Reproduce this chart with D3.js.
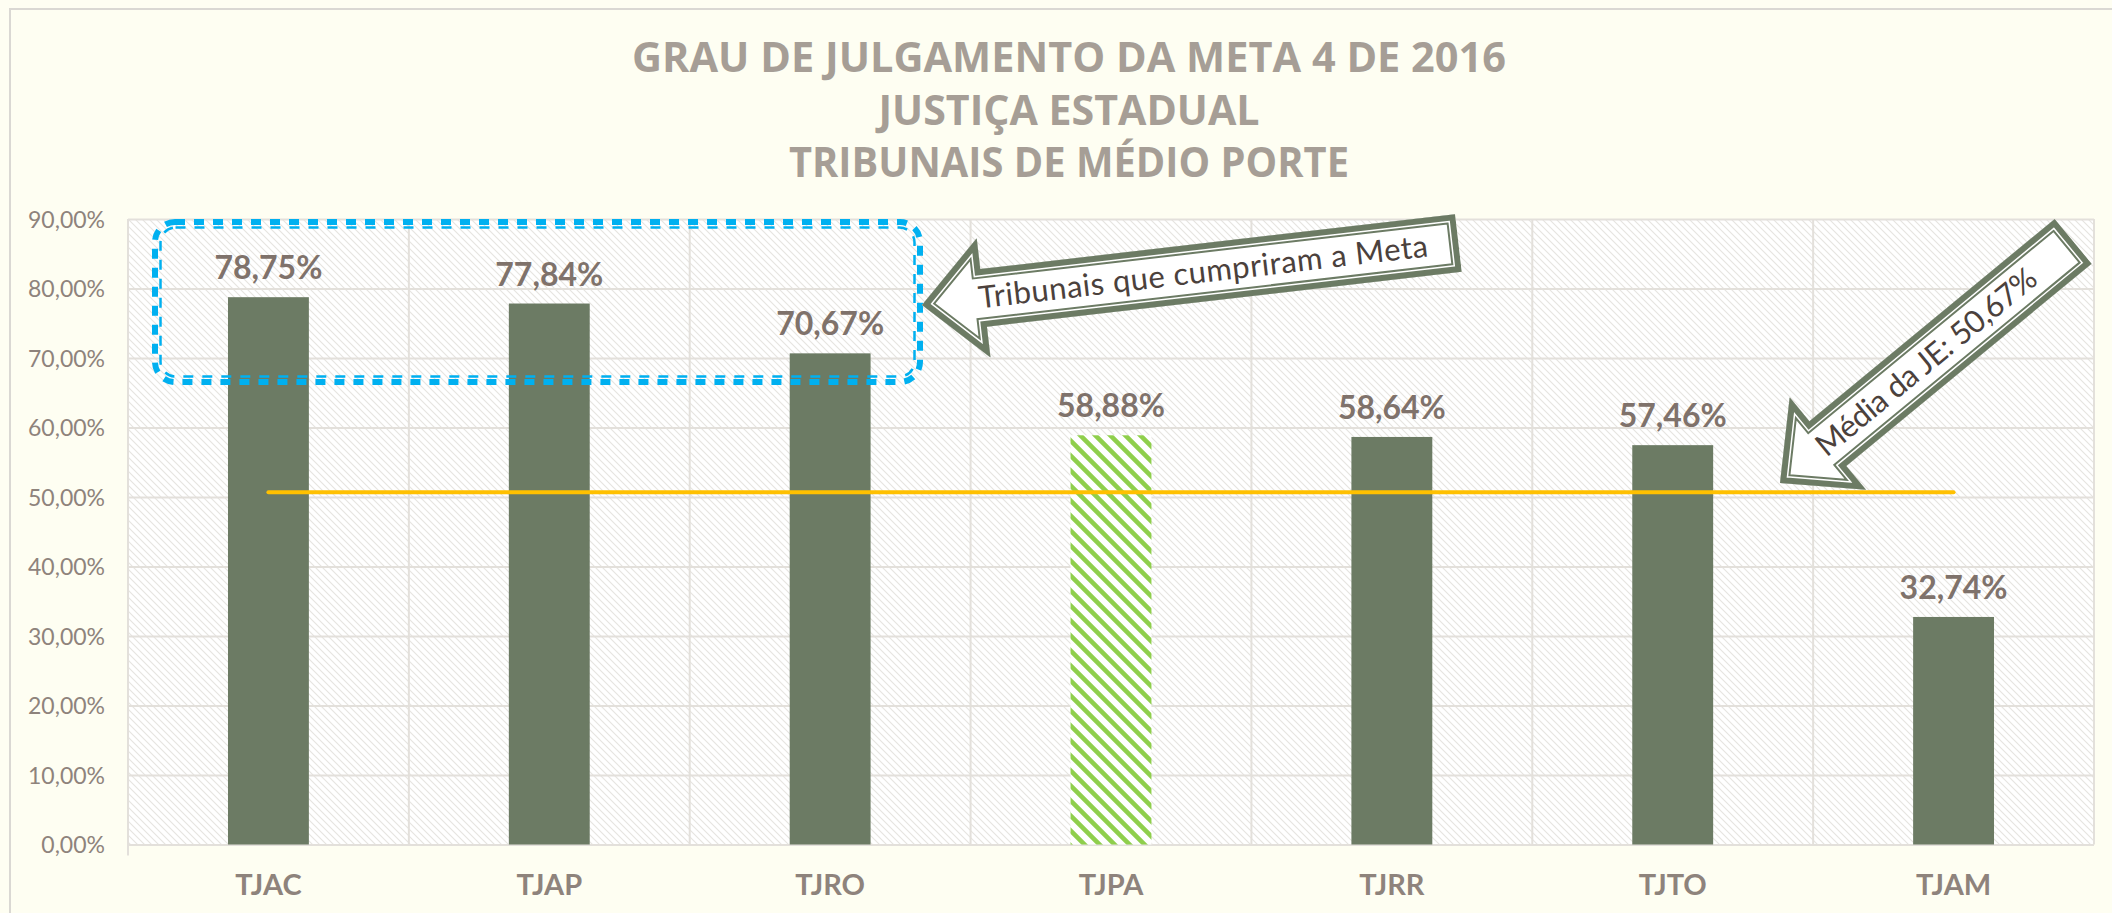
<!DOCTYPE html>
<html lang="pt">
<head>
<meta charset="UTF-8">
<title>Grau de julgamento da Meta 4 de 2016</title>
<script src="https://d3js.org/d3.v7.min.js"></script>
<style>
  html, body { margin: 0; padding: 0; background: #FEFEF2; overflow: hidden; }
  svg { display: block; }
  .ylab text { font-family: Lato, sans-serif; font-size: 23px; fill: #8E837C; }
  .xlab text { font-family: Lato, sans-serif; font-weight: 700; font-size: 29px; fill: #8E837C; }
  .grid line { stroke: #E3E0DB; stroke-width: 2; }
  .grid path { display: none; }
  .val { font-family: Lato, sans-serif; font-weight: 700; font-size: 32px; fill: #7F726B; }
  .title { font-family: "Open Sans", sans-serif; font-weight: 700; font-size: 42px; fill: #A69E96; }
  .callout { font-family: Lato, sans-serif; font-size: 31px; fill: #4B413C; }
</style>
</head>
<body>
<svg id="chart"></svg>
<script>
// --- data ---
const tribunais = ["TJAC", "TJAP", "TJRO", "TJPA", "TJRR", "TJTO", "TJAM"];
const grau = [78.75, 77.84, 70.67, 58.88, 58.64, 57.46, 32.74];
const destaque = "TJPA";
const mediaJE = 50.67;
const yTicks = [0, 10, 20, 30, 40, 50, 60, 70, 80, 90];
const titulo = ["GRAU DE JULGAMENTO DA META 4 DE 2016", "JUSTIÇA ESTADUAL", "TRIBUNAIS DE MÉDIO PORTE"];

const W = 2112, H = 913;
const plot = { left: 128, right: 2094, top: 219, bottom: 844.5 };

const svg = d3.select("#chart").attr("width", W).attr("height", H);
const defs = svg.append("defs");

// hatch for plot background
const bgPat = defs.append("pattern").attr("id", "bgHatch")
  .attr("patternUnits", "userSpaceOnUse").attr("width", 7).attr("height", 7);
bgPat.append("rect").attr("width", 7).attr("height", 7).attr("fill", "#FFFFFF");
bgPat.append("path").attr("d", "M-1,-1 L8,8 M-1,6 L1,8 M6,-1 L8,1")
  .attr("stroke", "#E6E4E0").attr("stroke-width", 1.1);

// green stripes for highlighted bar
const gPat = defs.append("pattern").attr("id", "greenHatch")
  .attr("patternUnits", "userSpaceOnUse").attr("width", 15).attr("height", 15);
gPat.append("rect").attr("width", 15).attr("height", 15).attr("fill", "#FFFFFF");
gPat.append("path").attr("d", "M-3,-3 L18,18 M-3,12 L3,18 M12,-3 L18,3")
  .attr("stroke", "#8FCF4C").attr("stroke-width", 4.6);

// chart border
svg.append("path").attr("d", `M10,${H} L10,9 L${W},9`)
  .attr("fill", "none").attr("stroke", "#DAD8D3").attr("stroke-width", 2);

// title
svg.append("g").selectAll("text").data(titulo).join("text")
  .attr("class", "title")
  .attr("x", 1069).attr("y", (d, i) => 72 + i * 52.5)
  .attr("text-anchor", "middle")
  .attr("textLength", (d, i) => [874, 381, 560][i])
  .attr("lengthAdjust", "spacingAndGlyphs")
  .text(d => d);

// scales
const x = d3.scaleBand().domain(tribunais)
  .range([plot.left, plot.right]).paddingInner(0.712).paddingOuter(0.356);
const y = d3.scaleLinear().domain([0, 90]).range([plot.bottom, plot.top]);
const step = x.step();

svg.append("rect")
  .attr("x", plot.left).attr("y", plot.top)
  .attr("width", plot.right - plot.left).attr("height", plot.bottom - plot.top)
  .attr("fill", "url(#bgHatch)");

// horizontal grid
svg.append("g").attr("class", "grid")
  .attr("transform", `translate(${plot.left},0)`)
  .call(d3.axisLeft(y).tickValues(yTicks).tickSize(-(plot.right - plot.left)).tickFormat(""));

// vertical grid at category boundaries
svg.append("g").attr("class", "grid").selectAll("line")
  .data(d3.range(tribunais.length + 1)).join("line")
  .attr("x1", i => plot.left + i * step).attr("x2", i => plot.left + i * step)
  .attr("y1", plot.top).attr("y2", i => i === 0 ? plot.bottom + 11 : plot.bottom);

// y labels
svg.append("g").attr("class", "ylab")
  .attr("transform", `translate(${plot.left},0)`)
  .call(d3.axisLeft(y).tickValues(yTicks).tickSize(0).tickPadding(23)
    .tickFormat(d => d3.format(".2f")(d).replace(".", ",") + "%"))
  .call(g => g.select(".domain").remove())
  .selectAll("text").attr("dy", "0.36em");

// x labels
svg.append("g").attr("class", "xlab")
  .attr("transform", `translate(0,${plot.bottom})`)
  .call(d3.axisBottom(x).tickSize(0).tickPadding(0))
  .call(g => g.select(".domain").remove())
  .selectAll("text").attr("y", 50.5).attr("dy", 0);

// bars
const bars = tribunais.map((t, i) => ({ t, v: grau[i] }));
svg.append("g").selectAll("rect").data(bars).join("rect")
  .attr("x", d => x(d.t)).attr("width", x.bandwidth())
  .attr("y", d => y(d.v)).attr("height", d => y(0) - y(d.v))
  .attr("fill", d => d.t === destaque ? "url(#greenHatch)" : "#6C7B64");

// value labels
svg.append("g").selectAll("text").data(bars).join("text")
  .attr("class", "val")
  .attr("x", d => x(d.t) + x.bandwidth() / 2)
  .attr("y", d => y(d.v) - 18)
  .attr("text-anchor", "middle")
  .text(d => d3.format(".2f")(d.v).replace(".", ",") + "%");

// average line
svg.append("line")
  .attr("x1", x(tribunais[0]) + x.bandwidth() / 2)
  .attr("x2", x(tribunais[tribunais.length - 1]) + x.bandwidth() / 2)
  .attr("y1", y(mediaJE)).attr("y2", y(mediaJE))
  .attr("stroke", "#FFC000").attr("stroke-width", 4).attr("stroke-linecap", "round");

// dashed highlight box (thick + thin compound line)
const box = { x0: 152, y0: 219, x1: 923, y1: 385 };
[{ inset: 3, w: 6, r: 20 }, { inset: 8.5, w: 2.5, r: 15 }].forEach(s => {
  svg.append("rect")
    .attr("x", box.x0 + s.inset).attr("y", box.y0 + s.inset)
    .attr("width", box.x1 - box.x0 - 2 * s.inset).attr("height", box.y1 - box.y0 - 2 * s.inset)
    .attr("rx", s.r).attr("fill", "none")
    .attr("stroke", "#00B0F0").attr("stroke-width", s.w)
    .attr("stroke-dasharray", "10 9");
});

// block arrows with compound outline
function blockArrow(id, tip, angle, len, label, textMid, textLen) {
  const hl = 62, hw = 60, sw = 29;
  const d = `M0,0 L${hl},${-hw} L${hl},${-sw} L${len},${-sw} L${len},${sw} L${hl},${sw} L${hl},${hw} Z`;
  const g = svg.append("g").attr("transform", `translate(${tip[0]},${tip[1]}) rotate(${angle})`);
  defs.append("clipPath").attr("id", id).append("path").attr("d", d);
  const inner = g.append("g").attr("clip-path", `url(#${id})`);
  inner.append("path").attr("d", d).attr("fill", "#FFFFFF");
  [[19, "#6C7B64"], [15, "#FFFFFF"], [12, "#6C7B64"]].forEach(([w, c]) => {
    inner.append("path").attr("d", d).attr("fill", "none")
      .attr("stroke", c).attr("stroke-width", w)
      .attr("stroke-linejoin", "miter").attr("stroke-miterlimit", 10);
  });
  g.append("text").attr("class", "callout")
    .attr("x", textMid).attr("y", 10)
    .attr("text-anchor", "middle")
    .attr("textLength", textLen).attr("lengthAdjust", "spacing")
    .text(label);
}

blockArrow("arrowMeta", [922, 305], -6.6, 540, "Tribunais que cumpriram a Meta", 283, 452);
blockArrow("arrowMedia", [1780, 483], -39.5, 380, "Média da JE: " + mediaJE.toFixed(2).replace(".", ",") + "%", 190, 276);
</script>
</body>
</html>
